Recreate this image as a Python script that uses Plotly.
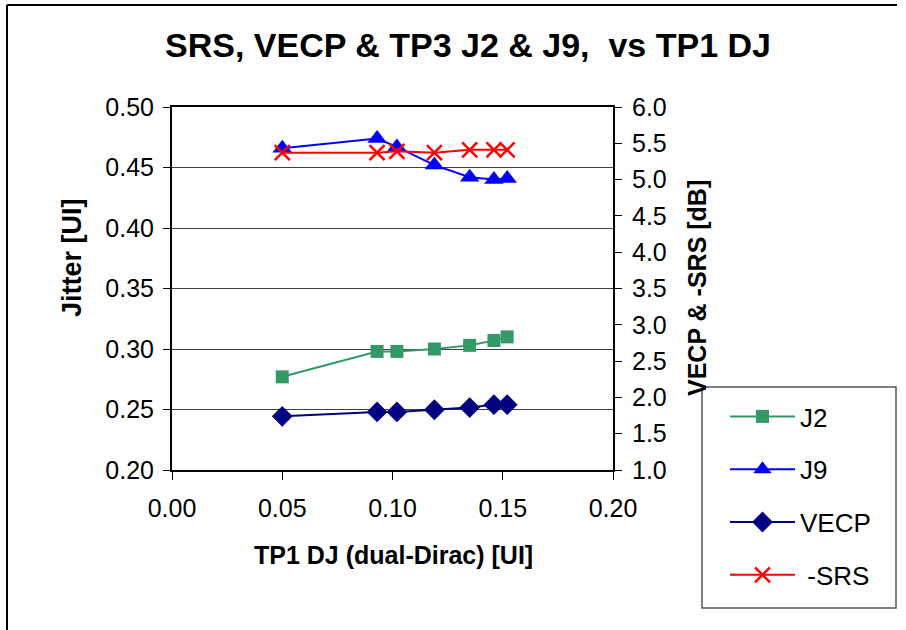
import plotly.graph_objects as go

x_dj = [0.050, 0.093, 0.102, 0.119, 0.135, 0.146, 0.152]
j2 = [0.277, 0.298, 0.298, 0.300, 0.303, 0.307, 0.310]
j9 = [0.466, 0.474, 0.467, 0.452, 0.442, 0.440, 0.441]
vecp = [1.74, 1.80, 1.80, 1.83, 1.86, 1.90, 1.90]
srs = [5.37, 5.37, 5.39, 5.37, 5.41, 5.41, 5.41]

FONT = "Liberation Sans, Arial, sans-serif"
W, H = 906, 630
L, R, T, B = 172, 293, 107, 160

fig = go.Figure()
fig.add_trace(go.Scatter(x=x_dj, y=j2, name="J2", mode="lines+markers", legendgroup="a",
                         line=dict(color="#339966", width=2),
                         marker=dict(symbol="square", size=13, color="#339966")))
fig.add_trace(go.Scatter(x=x_dj, y=j9, name="J9", mode="lines+markers", legendgroup="b",
                         line=dict(color="#0000FF", width=2),
                         marker=dict(symbol="triangle-up", size=17, color="#0000FF")))
fig.add_trace(go.Scatter(x=x_dj, y=vecp, name="VECP", mode="lines+markers", yaxis="y2", legendgroup="c",
                         line=dict(color="#000080", width=2),
                         marker=dict(symbol="diamond", size=16, color="#000080")))
fig.add_trace(go.Scatter(x=x_dj, y=srs, name=" -SRS", mode="lines+markers", yaxis="y2", legendgroup="d",
                         line=dict(color="#FF0000", width=2),
                         marker=dict(symbol="x-thin-open", size=15, color="#FF0000",
                                     line=dict(color="#FF0000", width=2.5))))

pw = W - L - R
ph = H - T - B
def px_x(p):
    return (p - L) / pw
def px_y(p):
    return (H - B - p) / ph

fig.update_layout(
    width=W, height=H,
    margin=dict(l=L, r=R, t=T, b=B, autoexpand=False),
    paper_bgcolor="white", plot_bgcolor="white",
    font=dict(family=FONT, size=25, color="black"),
    showlegend=True,
    legend=dict(x=px_x(725), y=px_y(393), xanchor="left", yanchor="top",
                borderwidth=0, bgcolor="rgba(0,0,0,0)",
                font=dict(size=26), itemwidth=65, tracegroupgap=16,
                traceorder="grouped"),
    xaxis=dict(range=[0, 0.2], tickvals=[0, 0.05, 0.1, 0.15, 0.2], tickformat=".2f",
               showline=True, linewidth=2, linecolor="black", mirror=True,
               ticks="outside", ticklen=8, tickcolor="black", ticklabelstandoff=7,
               showgrid=False, zeroline=False),
    yaxis=dict(range=[0.2, 0.5], dtick=0.05, tickformat=".2f",
               showline=True, linewidth=2, linecolor="black",
               ticks="outside", ticklen=7, tickcolor="black", ticklabelstandoff=4,
               showgrid=True, gridcolor="#404040", gridwidth=1, zeroline=False),
    yaxis2=dict(range=[1, 6], dtick=0.5, tickformat=".1f", overlaying="y", side="right",
                showline=True, linewidth=2, linecolor="black",
                ticks="outside", ticklen=7, tickcolor="black", ticklabelstandoff=5,
                showgrid=False, zeroline=False),
)

fig.add_annotation(text="SRS, VECP & TP3 J2 & J9,  vs TP1 DJ", xref="paper", yref="paper",
                   x=px_x(468), y=px_y(45), showarrow=False, xanchor="center", yanchor="middle",
                   font=dict(size=34, family=FONT, weight="bold"))
fig.add_annotation(text="TP1 DJ (dual-Dirac) [UI]", xref="paper", yref="paper",
                   x=px_x(393), y=px_y(555), showarrow=False, xanchor="center", yanchor="middle",
                   font=dict(size=25, family=FONT, weight="bold"))
fig.add_annotation(text="Jitter [UI]", xref="paper", yref="paper", textangle=-90,
                   x=px_x(72), y=px_y(258), showarrow=False, xanchor="center", yanchor="middle",
                   font=dict(size=27, family=FONT, weight="bold"))
fig.add_annotation(text="VECP & -SRS [dB]", xref="paper", yref="paper", textangle=-90,
                   x=px_x(697), y=px_y(288), showarrow=False, xanchor="center", yanchor="middle",
                   font=dict(size=25, family=FONT, weight="bold"))

# legend frame
fig.add_shape(type="rect", xref="paper", yref="paper", x0=px_x(702), x1=px_x(896),
              y0=px_y(387), y1=px_y(608), line=dict(color="#555555", width=1.5), layer="below")
# outer chart border (top and left edges visible)
fig.add_shape(type="line", xref="paper", yref="paper", x0=px_x(7), x1=px_x(897), y0=px_y(5), y1=px_y(5),
              line=dict(color="black", width=2))
fig.add_shape(type="line", xref="paper", yref="paper", x0=px_x(7), x1=px_x(7), y0=px_y(5), y1=px_y(632),
              line=dict(color="black", width=2))

fig.write_html("out.html", config={"displayModeBar": False},
               post_script="document.body.style.margin='0';document.body.style.overflow='hidden';")
